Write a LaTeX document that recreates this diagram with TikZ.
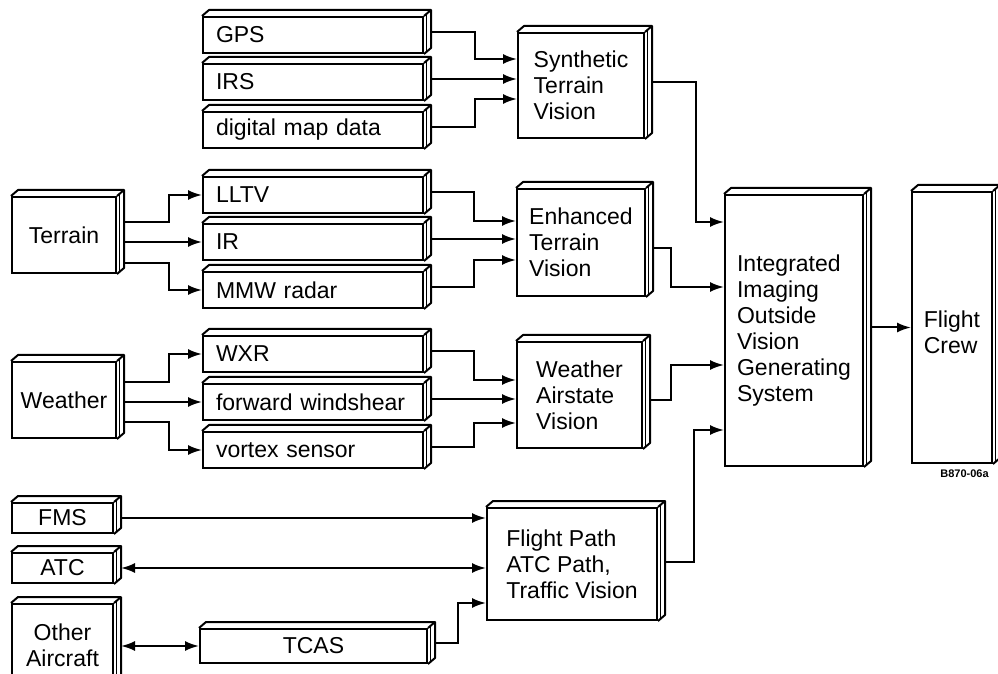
\documentclass[tikz,border=0pt]{standalone}
\usepackage{fontspec}
\setmainfont{Liberation Sans}
\usetikzlibrary{arrows.meta}
\tikzset{
	blk/.style={draw, line width=1pt, inner sep=0pt, align=center, font=\fontsize{11.5}{13}\selectfont},
	src/.style={blk, text width=97pt, inner xsep=6.5pt, minimum height=18pt, align=left},
	unit/.style={blk, align=left},
	arr/.style={line width=1pt, -{Latex[length=7pt,width=5pt]}},
	arrs/.style={line width=1pt, {Latex[length=7pt,width=5pt]}-{Latex[length=7pt,width=5pt]}},
}
\begin{document}
\begin{tikzpicture}[x=0.5pt,y=-0.5pt]
		\useasboundingbox (0,0) rectangle (998,674);
		\clip (0,0) rectangle (998,674);
		% sensors
		\node[src] (gps) at (313,35) {GPS};
		\node[src] (irs) at (313,82) {IRS};
		\node[src] (dmap) at (313,130) {digital map data};
		\node[src] (lltv) at (313,195) {LLTV};
		\node[src] (ir) at (313,242) {IR};
		\node[src] (mmw) at (313,290) {MMW radar};
		\node[src] (wxr) at (313,354) {WXR};
		\node[src] (fws) at (313,402) {forward windshear};
		\node[src] (vortex) at (313,450) {vortex sensor};
		% sources
		\node[blk, minimum width=52pt, minimum height=38pt] (terrain) at (64,235) {Terrain};
		\node[blk, minimum width=52pt, minimum height=38pt] (weather) at (64,400) {Weather};
		\node[blk, minimum width=50.5pt, minimum height=15pt] (fms) at (62.5,518) {FMS};
		\node[blk, minimum width=50.5pt, minimum height=15pt] (atc) at (62.5,568) {ATC};
		\node[blk, minimum width=50.5pt, minimum height=41pt] (other) at (62.5,645) {Other\\Aircraft};
		\node[blk, minimum width=113.5pt, minimum height=17pt] (tcas) at (313.5,646) {TCAS};
		% vision units
		\node[unit, minimum width=63pt, minimum height=52.5pt] (stv) at (581,85.5) {Synthetic\\Terrain\\Vision};
		\node[unit, minimum width=64pt, minimum height=53.5pt] (etv) at (581,242.5) {Enhanced\\Terrain\\Vision};
		\node[unit, minimum width=62.5pt, minimum height=53pt] (wav) at (579.5,395) {Weather\\Airstate\\Vision};
		\node[unit, minimum width=85pt, minimum height=56pt] (fpv) at (572,564) {Flight Path\\ATC Path,\\Traffic Vision};
		\node[unit, minimum width=69pt, minimum height=135.5pt] (iiovgs) at (794,330.5) {Integrated\\Imaging\\Outside\\Vision\\Generating\\System};
		\node[unit, minimum width=40pt, minimum height=135.5pt] (crew) at (952,327.5) {\mbox{}\\Flight\\Crew};
		\node[font=\bfseries\fontsize{5.5}{6}\selectfont, anchor=west, inner sep=0pt] (tag) at (940,474) {B870-06a};
		
		% depth faces
		\foreach \n in {gps,irs,dmap,lltv,ir,mmw,wxr,fws,vortex,terrain,weather,fms,atc,other,tcas,stv,etv,wav,fpv,iiovgs,crew} {
			\draw[line width=1pt, line join=round] (\n.north west) -- ++(7,-6) -- ([shift={(7,-6)}]\n.north east) -- ([shift={(7,-6)}]\n.south east) -- (\n.south east);
			\draw[line width=1pt] (\n.north east) -- ++(7,-6);
			\draw[line width=0.4pt] ([shift={(2.5,-2)}]\n.north east) -- ([shift={(2.5,-2)}]\n.south east);
			\coordinate (\n-out) at ([shift={(7,-3)}]\n.east);
		}
		
		% terrain and weather fan-out
		\draw[arr] ([shift={(7,-13)}]terrain.east) -- ++(45,0) |- (lltv.west);
		\draw[arr] (ir.west -| terrain-out) -- (ir.west);
		\draw[arr] ([shift={(7,28)}]terrain.east) -- ++(45,0) |- (mmw.west);
		\draw[arr] ([shift={(7,-18)}]weather.east) -- ++(45,0) |- (wxr.west);
		\draw[arr] (fws.west -| weather-out) -- (fws.west);
		\draw[arr] ([shift={(7,22)}]weather.east) -- ++(45,0) |- (vortex.west);
		
		% into the vision units
		\draw[arr] (gps-out) -- ++(44,0) |- ([shift={(0,-26.5)}]stv.west);
		\draw[arr] (irs-out) -- (irs-out -| stv.west);
		\draw[arr] (dmap-out) -- ++(44,0) |- ([shift={(0,13.5)}]stv.west);
		\draw[arr] (lltv-out) -- ++(43,0) |- ([shift={(0,-21.5)}]etv.west);
		\draw[arr] (ir-out) -- (ir-out -| etv.west);
		\draw[arr] (mmw-out) -- ++(43,0) |- ([shift={(0,17.5)}]etv.west);
		\draw[arr] (wxr-out) -- ++(43,0) |- ([shift={(0,-15)}]wav.west);
		\draw[arr] (fws-out) -- (fws-out -| wav.west);
		\draw[arr] (vortex-out) -- ++(43,0) |- ([shift={(0,28)}]wav.west);
		\draw[arr] (fms-out |- fms.east) -- (fms.east -| fpv.west);
		\draw[arrs] (atc-out |- atc.east) -- (atc.east -| fpv.west);
		\draw[arrs] (other-out |- tcas.west) -- (tcas.west);
		\draw[arr] (tcas-out) -- ++(23,0) |- ([shift={(0,39)}]fpv.west);
		
		% into the integrated system
		\draw[arr] (stv-out) -- ++(44,0) |- ([shift={(0,-108.5)}]iiovgs.west);
		\draw[arr] ([shift={(7,5.5)}]etv.east) -- ++(18,0) |- ([shift={(0,-43.5)}]iiovgs.west);
		\draw[arr] ([shift={(7,5)}]wav.east) -- ++(21,0) |- ([shift={(0,34.5)}]iiovgs.west);
		\draw[arr] ([shift={(7,-2)}]fpv.east) -- ++(29,0) |- ([shift={(0,99.5)}]iiovgs.west);
		\draw[arr] (iiovgs-out) -- (iiovgs-out -| crew.west);
		
	\end{tikzpicture}
\end{document}
